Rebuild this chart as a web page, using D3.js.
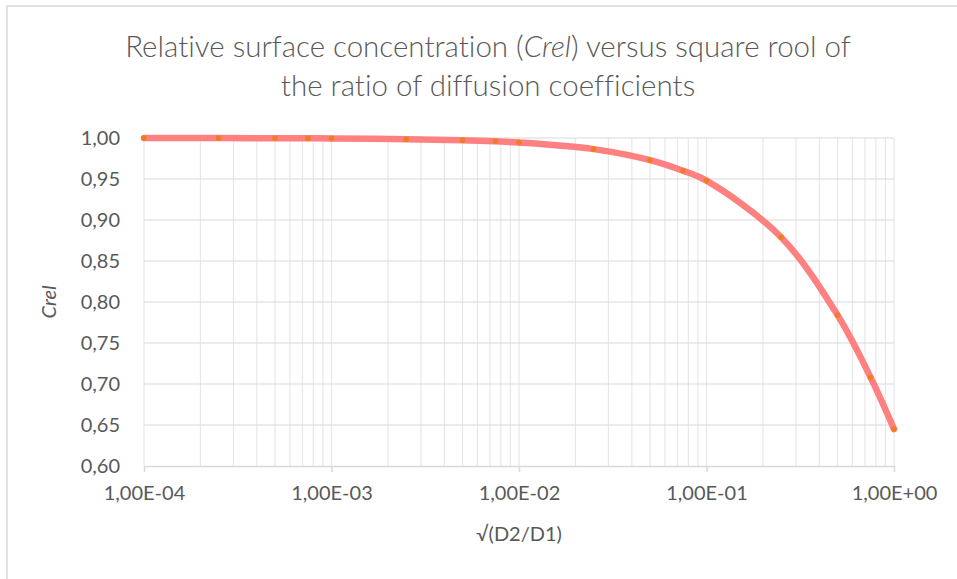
<!DOCTYPE html>
<html>
<head>
<meta charset="utf-8">
<script src="https://cdn.jsdelivr.net/npm/d3@7"></script>
<style>
  body { margin: 0; background: #fff; }
  text { font-family: Lato, "Open Sans", sans-serif; fill: #595959; font-variant-ligatures: none; }
</style>
</head>
<body>
<div id="chart"></div>
<script>
// values
const sqrtRatio = [1e-4, 2.5e-4, 5e-4, 7.5e-4, 1e-3, 2.5e-3, 5e-3, 7.5e-3, 1e-2,
                   2.5e-2, 5e-2, 7.5e-2, 1e-1, 2.5e-1, 5e-1, 7.5e-1, 1];
const crel = [0.9999, 0.9999, 0.9997, 0.9996, 0.9995, 0.9986, 0.9973, 0.9959, 0.9945,
              0.9864, 0.973, 0.960, 0.948, 0.879, 0.784, 0.708, 0.645];
const yTicks = [0.60, 0.65, 0.70, 0.75, 0.80, 0.85, 0.90, 0.95, 1.00];
const xTicks = [1e-4, 1e-3, 1e-2, 1e-1, 1];
const xTickLabels = ["1,00E-04", "1,00E-03", "1,00E-02", "1,00E-01", "1,00E+00"];

const width = 957, height = 579;
const svg = d3.select("#chart").append("svg")
  .attr("width", width)
  .attr("height", height);

// chart frame (only left and top edges fall inside the window)
svg.append("rect")
  .attr("x", 7).attr("y", 6)
  .attr("width", width + 20).attr("height", height + 20)
  .attr("fill", "#fff")
  .attr("stroke", "#d9d9d9")
  .attr("stroke-width", 1.5);

const x = d3.scaleLog().domain([1e-4, 1]).range([144, 894]);
const y = d3.scaleLinear().domain([0.6, 1]).range([466, 138]);

// vertical grid (log minor lines)
svg.append("g").selectAll("line")
  .data(x.ticks())
  .join("line")
  .attr("x1", d => x(d)).attr("x2", d => x(d))
  .attr("y1", y(1)).attr("y2", y(0.6))
  .attr("stroke", "#e8e8e8")
  .attr("stroke-width", 1.2);

// horizontal grid
svg.append("g").selectAll("line")
  .data(yTicks.slice(1))
  .join("line")
  .attr("x1", x(1e-4)).attr("x2", x(1))
  .attr("y1", d => y(d)).attr("y2", d => y(d))
  .attr("stroke", "#d9d9d9")
  .attr("stroke-width", 1.2);

// x axis
const xAxis = svg.append("g")
  .attr("transform", `translate(0,${y(0.6)})`)
  .call(d3.axisBottom(x).tickValues(xTicks)
    .tickFormat((d, i) => xTickLabels[i])
    .tickSizeOuter(0).tickSizeInner(6).tickPadding(14));
xAxis.select(".domain").attr("stroke", "#d9d9d9").attr("stroke-width", 1.5);
xAxis.selectAll(".tick line").attr("stroke", "#d9d9d9").attr("stroke-width", 1.5);
xAxis.selectAll("text").attr("font-size", 20).attr("fill", "#595959")
  .style("font-family", "Lato, 'Open Sans', sans-serif");

// y axis (labels only)
const yAxis = svg.append("g")
  .attr("transform", `translate(${x(1e-4)},0)`)
  .call(d3.axisLeft(y).tickValues(yTicks)
    .tickFormat(d => d3.format(".2f")(d).replace(".", ","))
    .tickSize(0).tickPadding(24));
yAxis.select(".domain").remove();
yAxis.selectAll("text").attr("font-size", 20).attr("fill", "#595959")
  .style("font-family", "Lato, 'Open Sans', sans-serif");

// series
const pts = sqrtRatio.map((d, i) => [d, crel[i]]);
const line = d3.line()
  .x(d => x(d[0]))
  .y(d => y(d[1]))
  .curve(d3.curveCatmullRom.alpha(0.5));

svg.append("path")
  .datum(pts)
  .attr("d", line)
  .attr("fill", "none")
  .attr("stroke", "#ff8080")
  .attr("stroke-width", 6.5)
  .attr("stroke-linecap", "round")
  .attr("stroke-linejoin", "round");

svg.append("g").selectAll("circle")
  .data(pts)
  .join("circle")
  .attr("cx", d => x(d[0]))
  .attr("cy", d => y(d[1]))
  .attr("r", 2.8)
  .attr("fill", "#f07d25");

// titles
const title = svg.append("text")
  .attr("text-anchor", "middle")
  .attr("font-size", 29.5)
  .attr("font-weight", 300);
const l1 = title.append("tspan").attr("x", 488).attr("y", 57);
l1.append("tspan").text("Relative surface concentration (");
l1.append("tspan").attr("font-style", "italic").text("Crel");
l1.append("tspan").text(") versus square rool of");
title.append("tspan").attr("x", 488).attr("y", 96).text("the ratio of diffusion coefficients");

svg.append("text")
  .attr("x", 519).attr("y", 541)
  .attr("text-anchor", "middle")
  .attr("font-size", 20)
  .text("√(D2/D1)");

svg.append("text")
  .attr("transform", "translate(56,302) rotate(-90)")
  .attr("text-anchor", "middle")
  .attr("font-size", 20)
  .attr("font-style", "italic")
  .text("Crel");
</script>
</body>
</html>
